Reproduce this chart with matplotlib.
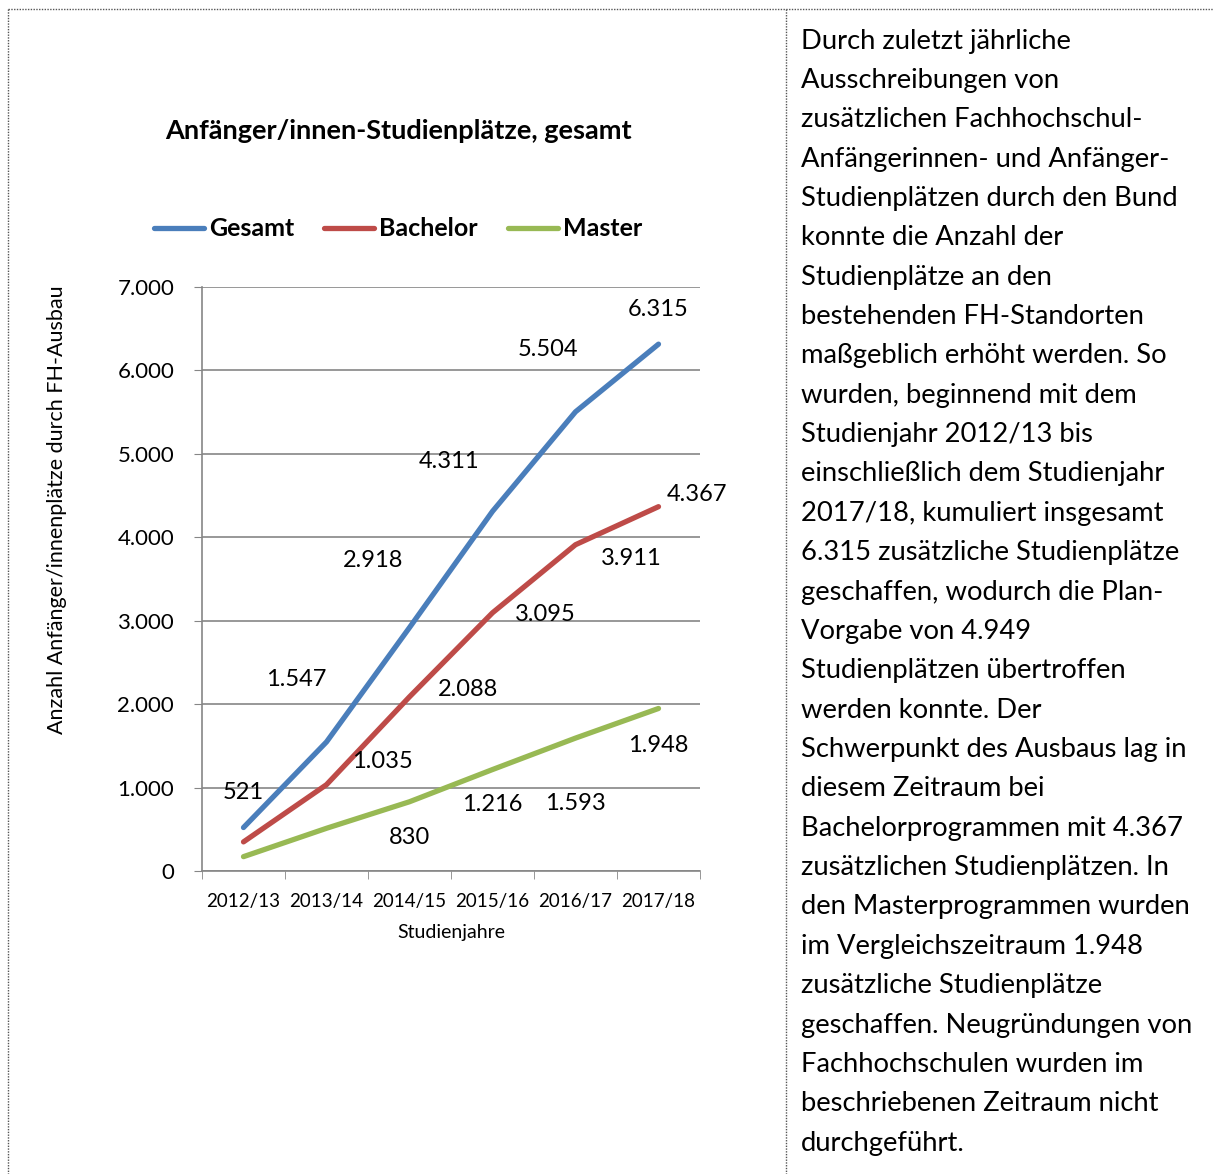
import matplotlib.pyplot as plt
from matplotlib.lines import Line2D

plt.rcParams['font.family'] = ['Lato', 'DejaVu Sans']

# data
jahre = ["2012/13", "2013/14", "2014/15", "2015/16", "2016/17", "2017/18"]
gesamt = [521, 1547, 2918, 4311, 5504, 6315]
bachelor = [349, 1035, 2088, 3095, 3911, 4367]
master = [172, 512, 830, 1216, 1593, 1948]

# which labels are shown (Excel chart hides some) and their offsets in points
gesamt_lbl = [True, True, True, True, True, True]
gesamt_off = [(0, 25), (-22, 45), (-26, 48), (-31, 36), (-20, 45), (0, 25)]
bachelor_lbl = [False, True, True, True, True, True]
bachelor_off = [(0, 0), (40, 17), (42, 5), (38, -1), (40, -10), (28, 9)]
master_lbl = [False, False, True, True, True, True]
master_off = [(0, 0), (0, 0), (0, -26), (0, -25), (0, -47), (0, -27)]

text_lines = [
    "Durch zuletzt jährliche",
    "Ausschreibungen von",
    "zusätzlichen Fachhochschul-",
    "Anfängerinnen- und Anfänger-",
    "Studienplätzen durch den Bund",
    "konnte die Anzahl der",
    "Studienplätze an den",
    "bestehenden FH-Standorten",
    "maßgeblich erhöht werden. So",
    "wurden, beginnend mit dem",
    "Studienjahr 2012/13 bis",
    "einschließlich dem Studienjahr",
    "2017/18, kumuliert insgesamt",
    "6.315 zusätzliche Studienplätze",
    "geschaffen, wodurch die Plan-",
    "Vorgabe von 4.949",
    "Studienplätzen übertroffen",
    "werden konnte. Der",
    "Schwerpunkt des Ausbaus lag in",
    "diesem Zeitraum bei",
    "Bachelorprogrammen mit 4.367",
    "zusätzlichen Studienplätzen. In",
    "den Masterprogrammen wurden",
    "im Vergleichszeitraum 1.948",
    "zusätzliche Studienplätze",
    "geschaffen. Neugründungen von",
    "Fachhochschulen wurden im",
    "beschriebenen Zeitraum nicht",
    "durchgeführt.",
]

def fmt(v):
    return f"{v:,}".replace(",", ".")

W, H = 1214, 1174
fig = plt.figure(figsize=(W / 100, H / 100), dpi=100)

# table borders (dotted)
bc = '#555555'
for xs, ys in [((8, W), (9, 9)), ((8, 8), (9, H)), ((786, 786), (9, H))]:
    fig.add_artist(Line2D([x / W for x in xs], [1 - y / H for y in ys],
                          color=bc, lw=1, linestyle=(0, (1, 1))))

ax = fig.add_axes([202 / W, 1 - 871 / H, 498 / W, 584 / H])
x = range(len(jahre))
series = [
    ("Gesamt", gesamt, '#4A7EBB', gesamt_lbl, gesamt_off),
    ("Bachelor", bachelor, '#BE4B48', bachelor_lbl, bachelor_off),
    ("Master", master, '#98B954', master_lbl, master_off),
]
for name, vals, col, show, off in series:
    ax.plot(x, vals, color=col, lw=3.8, solid_capstyle='round', label=name)
    for i, v in enumerate(vals):
        if show[i]:
            ax.annotate(fmt(v), (i, v), xytext=off[i], textcoords='offset points',
                        ha='center', va='center', fontsize=17, color='black')

ax.set_xlim(-0.5, 5.5)
ax.set_ylim(0, 7000)
ax.set_yticks(range(0, 7001, 1000))
ax.set_yticklabels([fmt(v) for v in range(0, 7001, 1000)], fontsize=16)
ax.set_xticks(list(x))
ax.set_xticklabels(jahre, fontsize=13.5)
ax.set_xticks([i - 0.5 for i in range(len(jahre) + 1)], minor=True)
ax.tick_params(axis='x', which='major', length=0, pad=16)
ax.tick_params(axis='x', which='minor', length=6, color='#868686')
ax.tick_params(axis='y', length=6, color='#868686', pad=14)
ax.grid(axis='y', color='#868686', lw=1.2)
ax.set_axisbelow(True)
for s in ['top', 'right']:
    ax.spines[s].set_visible(False)
for s in ['left', 'bottom']:
    ax.spines[s].set_color('#868686')
    ax.spines[s].set_linewidth(1.2)

ax.set_xlabel("Studienjahre", fontsize=14, labelpad=10)
ax.set_ylabel("Anzahl Anfänger/innenplätze durch FH-Ausbau", fontsize=15.5)
ax.yaxis.set_label_coords((67 - 202) / 498, (871 - 510) / 584)

fig.text(398 / W, 1 - 131 / H, "Anfänger/innen-Studienplätze, gesamt",
         ha='center', va='center', fontsize=19.5, fontweight='bold')

leg = fig.legend(loc='center', bbox_to_anchor=(398 / W, 1 - 229 / H), ncol=3,
                 frameon=False, handlelength=2.0, handletextpad=0.2, columnspacing=1.2,
                 prop={'size': 18, 'weight': 'bold'})

for i, line in enumerate(text_lines):
    fig.text(801 / W, 1 - (41 + i * 39.36) / H, line, ha='left', va='center',
             fontsize=19.7, color='black')

fig.savefig("out.png", dpi=100)
